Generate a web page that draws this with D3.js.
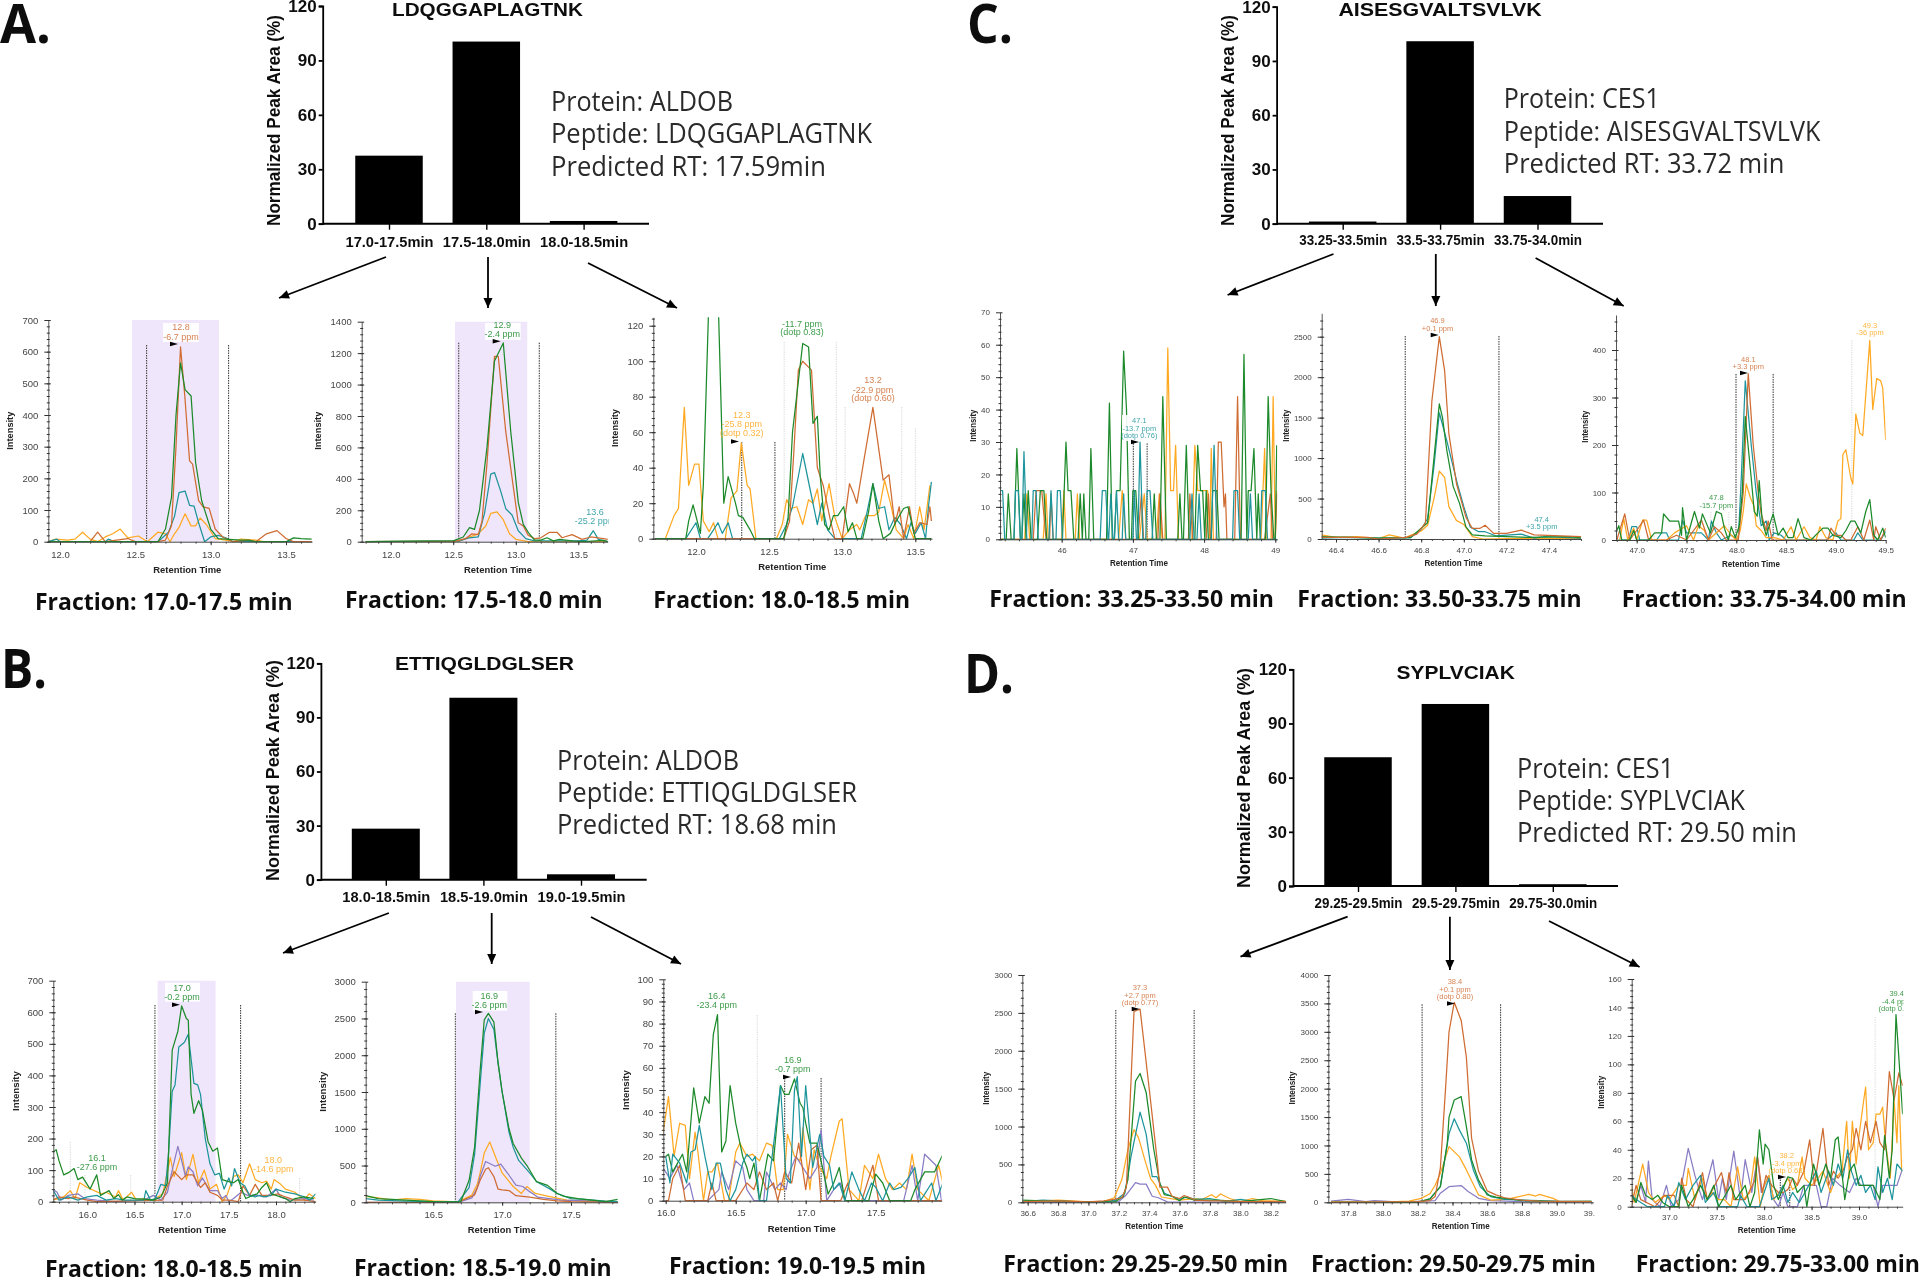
<!DOCTYPE html>
<html><head><meta charset="utf-8">
<script src="https://cdn.jsdelivr.net/npm/d3@7"></script>
<style>html,body{margin:0;padding:0;background:#fff}svg{display:block}</style>
</head><body><svg id="c" width="1920" height="1278"></svg>
<script>
// ---------- bar data ----------
const barCatsA=["17.0-17.5min","17.5-18.0min","18.0-18.5min"], barValsA=[37.5,100.4,1.5];
const barCatsB=["18.0-18.5min","18.5-19.0min","19.0-19.5min"], barValsB=[28.3,100.9,3];
const barCatsC=["33.25-33.5min","33.5-33.75min","33.75-34.0min"], barValsC=[1.2,100.9,15.3];
const barCatsD=["29.25-29.5min","29.5-29.75min","29.75-30.0min"], barValsD=[71.3,100.8,1];
const barTicks=[0,30,60,90,120];
// ---------- chromatogram data: [retention time, intensity] ----------
const a1Yellow=[[11.92,0],[11.97,8],[12.05,5],[12.1,8],[12.15,30],[12.2,8],[12.25,0],[12.3,15],[12.35,25],[12.4,40],[12.45,12],[12.52,18],[12.58,0],[12.65,30],[12.7,25],[12.73,0],[12.76,25],[12.79,45],[12.83,88],[12.87,50],[12.9,50],[12.93,75],[12.97,55],[13.03,10],[13.1,5],[13.15,0],[13.2,8],[13.3,5],[13.35,0],[13.67,0]];
const a1Teal=[[11.92,0],[11.98,8],[12,0],[12.3,0],[12.32,8],[12.36,0],[12.65,0],[12.72,30],[12.76,80],[12.79,155],[12.83,160],[12.86,115],[12.89,112],[12.92,60],[12.96,0],[13,15],[13.05,20],[13.1,12],[13.15,0],[13.67,0]];
const a1Brown=[[11.92,0],[12.2,0],[12.25,30],[12.3,0],[12.45,10],[12.5,0],[12.65,0],[12.7,5],[12.74,50],[12.77,300],[12.8,615],[12.83,450],[12.86,255],[12.88,245],[12.92,130],[12.95,110],[12.99,105],[13.03,40],[13.08,15],[13.15,0],[13.25,5],[13.3,0],[13.37,25],[13.44,35],[13.5,10],[13.55,0],[13.67,0]];
const a1Green=[[11.92,0],[12.6,0],[12.65,0],[12.7,40],[12.74,140],[12.77,400],[12.8,565],[12.83,480],[12.87,460],[12.9,250],[12.94,130],[13,40],[13.05,10],[13.2,5],[13.25,5],[13.3,0],[13.5,0],[13.55,12],[13.6,10],[13.67,8]];
const a2Yellow=[[11.8,0],[12.55,5],[12.7,50],[12.76,100],[12.8,180],[12.85,190],[12.9,140],[12.95,50],[13,15],[13.1,0],[13.74,0]];
const a2Teal=[[11.8,0],[12.55,5],[12.63,25],[12.7,30],[12.75,180],[12.8,430],[12.83,440],[12.88,320],[12.92,210],[12.97,170],[13.02,70],[13.08,20],[13.15,5],[13.5,5],[13.57,10],[13.62,70],[13.66,15],[13.74,0]];
const a2Brown=[[11.8,0],[12.5,0],[12.6,20],[12.65,50],[12.7,45],[12.73,130],[12.77,500],[12.83,1180],[12.86,1180],[12.92,700],[12.98,350],[13.02,120],[13.06,100],[13.1,40],[13.15,20],[13.2,25],[13.27,60],[13.33,60],[13.37,25],[13.45,45],[13.53,15],[13.6,30],[13.7,20],[13.74,15]];
const a2Green=[[11.8,0],[12.5,5],[12.58,30],[12.63,90],[12.67,78],[12.71,200],[12.77,600],[12.83,1150],[12.9,1265],[12.96,700],[13.02,250],[13.06,110],[13.1,60],[13.15,10],[13.2,10],[13.25,25],[13.3,5],[13.35,15],[13.45,5],[13.55,0],[13.7,8],[13.74,0]];
const a3Yellow=[[11.72,0],[11.79,0],[11.85,13],[11.88,17],[11.92,74],[11.95,30],[11.99,42],[12.02,42],[12.05,10],[12.09,4],[12.12,9],[12.15,0],[12.2,0],[12.24,23],[12.28,27],[12.31,54],[12.35,30],[12.37,28],[12.41,0],[12.55,0],[12.59,8],[12.62,22],[12.65,17],[12.69,18],[12.73,8],[12.77,22],[12.8,20],[12.83,28],[12.86,10],[12.91,31],[12.95,12],[13,0],[13.05,5],[13.1,8],[13.12,5],[13.16,13],[13.22,13],[13.25,15],[13.29,33],[13.33,20],[13.37,5],[13.42,0],[13.45,8],[13.49,0],[13.53,18],[13.56,5],[13.6,30]];
const a3Teal=[[11.72,0],[11.93,0],[12,9],[12.03,0],[12.08,0],[12.12,5],[12.15,9],[12.18,3],[12.22,9],[12.25,0],[12.57,0],[12.62,8],[12.66,18],[12.73,48],[12.78,28],[12.83,8],[12.86,20],[12.9,5],[12.95,0],[13.13,0],[13.17,15],[13.21,31],[13.25,17],[13.29,18],[13.32,5],[13.36,12],[13.4,8],[13.44,0],[13.47,9],[13.5,3],[13.54,9],[13.57,0],[13.59,18],[13.61,32]];
const a3Brown=[[11.72,0],[12.6,0],[12.64,10],[12.67,50],[12.7,95],[12.73,100],[12.79,95],[12.83,40],[12.87,30],[12.92,10],[12.95,0],[13,0],[13.05,31],[13.08,25],[13.1,20],[13.15,45],[13.21,74],[13.28,33],[13.32,36],[13.36,8],[13.39,18],[13.42,0],[13.46,18],[13.49,3],[13.53,9],[13.58,8],[13.6,18],[13.61,10]];
const a3Green=[[11.72,0],[11.93,0],[11.95,10],[11.98,19],[12.03,3],[12.05,30],[12.09,140],[12.15,140],[12.19,20],[12.22,35],[12.27,20],[12.29,13],[12.32,12],[12.37,5],[12.4,0],[12.6,0],[12.63,12],[12.66,60],[12.73,110],[12.77,108],[12.8,65],[12.83,69],[12.85,35],[12.88,8],[12.91,5],[12.94,13],[12.97,13],[13.01,18],[13.04,4],[13.07,9],[13.1,0],[13.14,0],[13.18,15],[13.21,31],[13.25,10],[13.28,0],[13.33,3],[13.37,10],[13.42,17],[13.45,18],[13.5,0],[13.61,0]];
const b1Yellow=[[15.63,5],[15.7,10],[15.75,15],[15.82,35],[15.87,10],[15.92,60],[16,45],[16.15,25],[16.2,30],[16.3,15],[16.33,35],[16.38,5],[16.47,30],[16.52,5],[16.6,10],[16.7,5],[16.8,25],[16.88,140],[16.92,80],[17,155],[17.05,70],[17.12,150],[17.18,60],[17.24,100],[17.3,40],[17.37,55],[17.43,0],[17.48,20],[17.55,80],[17.6,85],[17.65,60],[17.72,120],[17.78,70],[17.85,60],[17.9,65],[17.95,40],[17.98,70],[18.05,55],[18.1,40],[18.2,30],[18.3,5],[18.35,25],[18.42,10]];
const b1Purple=[[15.63,40],[15.68,30],[15.72,5],[15.8,20],[15.9,25],[15.97,10],[16.1,5],[16.3,0],[16.6,5],[16.7,20],[16.78,5],[16.85,30],[16.9,100],[16.96,175],[17,130],[17.04,80],[17.07,110],[17.12,95],[17.17,50],[17.22,75],[17.3,35],[17.38,35],[17.43,10],[17.47,20],[17.5,0],[17.55,10],[17.63,30],[17.7,20],[17.8,20],[17.9,15],[18,40],[18.05,15],[18.15,5],[18.3,10],[18.4,5]];
const b1Teal=[[15.63,40],[15.7,5],[15.8,15],[15.9,5],[16,15],[16.1,20],[16.2,5],[16.3,10],[16.4,5],[16.5,5],[16.6,5],[16.62,35],[16.67,5],[16.72,10],[16.78,55],[16.83,50],[16.86,150],[16.9,350],[16.93,370],[16.97,490],[17.03,505],[17.07,530],[17.13,375],[17.17,370],[17.2,340],[17.25,200],[17.3,120],[17.35,85],[17.4,90],[17.45,40],[17.5,75],[17.53,50],[17.56,105],[17.62,60],[17.67,50],[17.72,20],[17.78,15],[17.82,20],[17.87,15],[17.95,20],[18,40],[18.1,30],[18.2,25],[18.3,15],[18.36,5],[18.42,25]];
const b1Brown=[[15.63,5],[15.7,15],[15.8,10],[15.85,15],[16,5],[16.1,0],[16.8,5],[16.85,50],[16.92,95],[17,70],[17.05,85],[17.12,85],[17.2,45],[17.25,60],[17.3,30],[17.38,20],[17.43,5],[17.5,5],[17.6,0],[17.65,50],[17.72,20],[17.78,55],[17.85,20],[17.95,20],[18.02,25],[18.1,15],[18.2,5],[18.3,5],[18.42,0]];
const b1Green=[[15.63,155],[15.67,165],[15.7,130],[15.75,85],[15.8,92],[15.86,105],[15.9,70],[15.95,78],[16.03,40],[16.1,85],[16.14,20],[16.2,30],[16.23,35],[16.28,10],[16.33,22],[16.37,5],[16.42,15],[16.5,10],[16.6,8],[16.7,5],[16.78,15],[16.85,60],[16.9,480],[16.96,540],[17,620],[17.05,580],[17.07,575],[17.1,340],[17.13,280],[17.18,320],[17.22,290],[17.28,190],[17.33,160],[17.38,170],[17.43,70],[17.48,65],[17.55,60],[17.6,70],[17.65,30],[17.68,10],[17.75,20],[17.8,25],[17.85,45],[17.9,60],[17.95,25],[18,20],[18.1,10],[18.15,0],[18.2,10],[18.3,15],[18.4,10]];
const b2Yellow=[[16.01,80],[16.1,60],[16.2,30],[16.3,50],[16.4,40],[16.5,20],[16.68,5],[16.78,100],[16.82,250],[16.84,400],[16.87,670],[16.91,820],[16.96,580],[17,400],[17.08,215],[17.14,120],[17.18,215],[17.24,120],[17.33,85],[17.47,30],[17.84,5]];
const b2Purple=[[16.01,0],[16.68,0],[16.78,60],[16.82,200],[16.84,350],[16.88,555],[16.95,490],[16.99,520],[17.04,395],[17.1,235],[17.15,215],[17.2,145],[17.26,70],[17.43,30],[17.84,5]];
const b2Brown=[[16.01,0],[16.68,0],[16.8,100],[16.84,300],[16.88,450],[16.9,470],[16.94,350],[16.97,180],[17,170],[17.05,160],[17.1,90],[17.2,70],[17.3,40],[17.4,20],[17.5,10],[17.84,0]];
const b2Teal=[[16.01,50],[16.1,30],[16.3,15],[16.6,5],[16.68,5],[16.76,200],[16.8,650],[16.84,1600],[16.87,2300],[16.9,2500],[16.94,2350],[16.97,1900],[17,1500],[17.05,950],[17.08,750],[17.12,570],[17.2,400],[17.25,280],[17.33,200],[17.4,120],[17.5,50],[17.6,40],[17.75,15],[17.84,10]];
const b2Green=[[16.01,90],[16.1,50],[16.3,30],[16.5,10],[16.65,5],[16.7,10],[16.76,300],[16.8,750],[16.84,1790],[16.87,2480],[16.9,2570],[16.94,2450],[16.97,1900],[17,1500],[17.05,1000],[17.08,800],[17.14,600],[17.18,500],[17.25,280],[17.33,230],[17.4,120],[17.45,80],[17.55,50],[17.65,30],[17.75,10],[17.84,40]];
const b3Yellow=[[15.98,30],[16.02,47],[16.06,20],[16.1,35],[16.14,34],[16.17,10],[16.21,31],[16.23,22],[16.27,0],[16.3,13],[16.33,13],[16.37,17],[16.42,0],[16.45,0],[16.5,22],[16.53,26],[16.58,20],[16.62,21],[16.67,18],[16.72,26],[16.76,25],[16.8,5],[16.84,5],[16.87,30],[16.92,20],[16.96,18],[16.98,33],[17.03,5],[17.06,23],[17.1,15],[17.15,10],[17.18,20],[17.24,36],[17.26,37],[17.31,5],[17.38,0],[17.42,16],[17.48,10],[17.52,21],[17.57,10],[17.62,5],[17.67,8],[17.72,5],[17.76,21],[17.8,5],[17.88,0],[17.95,16],[17.99,5]];
const b3Purple=[[15.98,15],[16.03,10],[16.08,16],[16.13,5],[16.17,8],[16.2,0],[16.3,0],[16.38,5],[16.4,13],[16.45,5],[16.5,18],[16.55,15],[16.58,5],[16.63,0],[16.7,0],[16.72,13],[16.78,5],[16.82,8],[16.86,5],[16.88,12],[16.93,20],[16.98,15],[17.03,10],[17.08,15],[17.11,32],[17.15,0],[17.2,5],[17.25,8],[17.28,0],[17.7,0],[17.76,16],[17.8,0],[17.85,21],[17.93,16],[17.97,0]];
const b3Brown=[[16,0],[16.02,0],[16.05,10],[16.1,16],[16.14,0],[16.3,0],[16.33,8],[16.36,0],[16.5,0],[16.58,8],[16.63,5],[16.67,13],[16.72,5],[16.77,8],[16.8,0],[16.85,13],[16.9,8],[16.95,26],[17,5],[17.04,23],[17.08,25],[17.11,0],[17.25,0],[17.3,8],[17.33,0],[17.4,0],[17.48,16],[17.52,0],[17.98,0]];
const b3Teal=[[16,20],[16.03,8],[16.05,21],[16.1,17],[16.15,8],[16.18,22],[16.21,23],[16.24,34],[16.28,20],[16.33,5],[16.36,17],[16.39,17],[16.43,5],[16.46,0],[16.5,5],[16.55,17],[16.58,21],[16.62,18],[16.64,20],[16.67,0],[16.72,0],[16.77,25],[16.82,52],[16.86,10],[16.89,8],[16.92,50],[16.94,56],[16.97,20],[17,52],[17.05,15],[17.1,30],[17.13,20],[17.17,16],[17.2,5],[17.24,8],[17.28,0],[17.33,13],[17.38,5],[17.42,0],[17.47,8],[17.5,6],[17.55,0],[17.6,8],[17.63,5],[17.68,6],[17.73,10],[17.78,15],[17.82,0],[17.9,8],[17.93,0],[17.98,8]];
const b3Green=[[16,20],[16.02,21],[16.05,13],[16.12,21],[16.15,13],[16.2,51],[16.24,35],[16.28,47],[16.31,44],[16.34,75],[16.37,84],[16.4,22],[16.43,27],[16.46,52],[16.5,35],[16.55,20],[16.58,15],[16.6,10],[16.63,17],[16.67,0],[16.73,21],[16.77,18],[16.82,52],[16.85,48],[16.88,48],[16.92,55],[16.96,44],[16.98,42],[17,35],[17.03,26],[17.08,26],[17.12,15],[17.16,3],[17.2,8],[17.24,15],[17.28,0],[17.45,0],[17.5,12],[17.55,8],[17.6,0],[17.75,0],[17.78,5],[17.85,13],[17.92,13],[17.98,21]];
const c1Yellow=[[45.13,0],[45.48,0],[45.51,14],[45.55,0],[45.74,0],[45.78,14],[45.81,0],[46,0],[46.03,15],[46.06,0],[46.19,0],[46.22,14],[46.25,0],[46.8,0],[46.85,15],[46.9,0],[47.09,0],[47.16,14],[47.2,0],[47.33,0],[47.37,14],[47.41,0],[47.45,0],[47.49,59],[47.53,15],[47.57,15],[47.6,29],[47.64,0],[47.83,0],[47.87,29],[47.91,15],[48.05,15],[48.08,0],[48.1,28],[48.13,0],[48.8,0],[48.85,28],[48.88,0],[48.94,0],[48.97,44],[49,0],[49.02,15]];
const c1Brown=[[45.13,0],[45.6,0],[45.64,15],[45.72,15],[45.78,0],[45.83,0],[45.85,14],[45.88,0],[46.2,0],[47.07,0],[47.12,14],[47.15,0],[47.35,0],[47.38,14],[47.42,0],[47.78,0],[47.8,14],[47.84,0],[48.03,0],[48.06,14],[48.09,0],[48.17,0],[48.2,30],[48.24,30],[48.28,10],[48.3,14],[48.32,0],[48.43,0],[48.47,44],[48.51,0],[48.85,0],[48.93,14],[48.96,0],[49,0],[49.02,14]];
const c1Green=[[45.13,0],[45.22,0],[45.25,14],[45.29,0],[45.33,0],[45.37,28],[45.42,0],[45.44,0],[45.47,14],[45.5,0],[45.53,15],[45.57,0],[45.66,0],[45.7,15],[45.75,15],[45.79,0],[46.01,0],[46.06,30],[46.09,15],[46.13,15],[46.17,0],[46.23,0],[46.26,14],[46.29,0],[46.31,14],[46.34,0],[46.38,0],[46.41,28],[46.45,0],[46.63,0],[46.67,42],[46.71,0],[46.74,0],[46.77,15],[46.82,15],[46.87,58],[46.91,40],[46.95,0],[46.98,0],[47,15],[47.04,15],[47.08,0],[47.27,0],[47.3,14],[47.33,0],[47.38,0],[47.42,44],[47.47,0],[47.63,0],[47.66,14],[47.69,0],[47.71,0],[47.75,29],[47.79,0],[47.87,0],[47.91,29],[47.95,15],[47.98,15],[48.01,0],[48.03,15],[48.06,0],[48.1,0],[48.12,15],[48.18,15],[48.21,0],[48.52,0],[48.56,57],[48.6,0],[48.62,15],[48.66,15],[48.7,28],[48.74,0],[48.76,14],[48.79,0],[48.86,0],[48.9,44],[48.94,15],[48.98,0],[49,0],[49.02,29]];
const c1Teal=[[45.13,15],[45.17,15],[45.2,0],[45.33,0],[45.35,15],[45.39,15],[45.42,0],[45.44,0],[45.47,27],[45.51,0],[45.58,0],[45.6,15],[45.64,15],[45.67,0],[45.82,0],[45.85,15],[45.88,0],[45.92,0],[45.94,15],[45.98,15],[46.01,0],[46.54,0],[46.57,15],[46.62,15],[46.65,0],[46.66,0],[46.69,14],[46.72,0],[46.74,0],[46.77,15],[46.8,0],[46.85,0],[46.87,14],[46.9,0],[47,0],[47.02,15],[47.05,0],[47.07,0],[47.1,30],[47.14,0],[47.18,0],[47.2,15],[47.24,15],[47.28,0],[47.8,0],[47.83,14],[47.86,0],[47.9,0],[47.93,14],[47.96,0],[48.1,0],[48.14,29],[48.18,0],[48.4,0],[48.42,15],[48.47,15],[48.5,0],[48.62,0],[48.65,14],[48.68,0],[48.79,0],[48.81,15],[48.86,15],[48.89,0],[49.02,0]];
const c2Yellow=[[46.33,50],[46.4,20],[46.5,30],[46.6,5],[46.65,50],[46.72,10],[46.8,100],[46.83,170],[46.86,500],[46.885,840],[46.91,760],[46.93,400],[46.965,230],[47,180],[47.04,30],[47.09,0],[47.2,5],[47.55,5]];
const c2Teal=[[46.33,10],[46.45,20],[46.6,10],[46.75,15],[46.8,120],[46.83,250],[46.86,900],[46.885,1560],[46.92,1215],[46.97,680],[47,400],[47.03,150],[47.07,90],[47.1,90],[47.15,40],[47.27,60],[47.33,10],[47.38,30],[47.55,10]];
const c2Green=[[46.33,30],[46.6,10],[46.75,20],[46.83,200],[46.86,1000],[46.885,1670],[46.9,1500],[46.92,1100],[46.95,650],[46.98,440],[47.01,150],[47.04,50],[47.1,40],[47.3,20],[47.5,30],[47.55,15]];
const c2Brown=[[46.33,20],[46.55,20],[46.6,0],[46.73,20],[46.78,60],[46.82,200],[46.85,1700],[46.885,2500],[46.91,2080],[46.93,1300],[46.966,680],[47.01,270],[47.04,130],[47.075,130],[47.1,170],[47.14,70],[47.2,70],[47.27,110],[47.33,50],[47.55,30]];
const c3Teal=[[46.8,0],[46.92,0],[46.95,28],[47,28],[47.03,0],[47.2,0],[47.25,15],[47.3,15],[47.33,0],[47.42,0],[47.46,42],[47.5,15],[47.65,15],[47.72,0],[47.75,40],[47.8,15],[47.85,0],[47.95,10],[48.02,0],[48.05,130],[48.09,335],[48.15,200],[48.2,100],[48.25,30],[48.3,40],[48.33,0],[48.38,15],[48.45,10],[48.5,0],[48.9,0],[49,15],[49.05,0],[49.18,0],[49.22,15],[49.27,0],[49.45,0],[49.5,18]];
const c3Yellow=[[46.83,0],[46.87,45],[46.91,0],[46.97,25],[47,0],[47.06,42],[47.1,42],[47.15,0],[47.3,0],[47.38,15],[47.5,30],[47.57,0],[47.62,30],[47.68,20],[47.72,0],[47.88,30],[47.95,10],[48,0],[48.04,20],[48.07,60],[48.1,118],[48.14,90],[48.18,70],[48.2,30],[48.25,20],[48.3,5],[48.38,5],[48.47,0],[48.55,28],[48.6,0],[48.68,28],[48.74,5],[48.8,0],[48.84,28],[48.9,5],[48.97,0],[49.02,40],[49.05,45],[49.07,180],[49.1,190],[49.15,130],[49.17,118],[49.2,265],[49.24,225],[49.27,220],[49.34,420],[49.37,275],[49.41,340],[49.45,335],[49.47,320],[49.5,210]];
const c3Brown=[[46.8,0],[46.88,55],[46.93,0],[47,20],[47.07,42],[47.12,0],[47.3,0],[47.4,10],[47.5,0],[47.65,42],[47.72,0],[47.78,28],[47.85,15],[47.9,0],[48.02,0],[48.07,100],[48.12,350],[48.17,200],[48.22,100],[48.25,55],[48.3,20],[48.32,40],[48.36,0],[48.92,0],[48.95,25],[49,10],[49.05,10],[49.1,0],[49.15,0],[49.22,28],[49.28,0],[49.34,42],[49.38,0],[49.4,28],[49.45,0],[49.5,25]];
const c3Green=[[46.8,20],[46.82,30],[46.85,0],[46.93,0],[46.97,20],[47,0],[47.12,0],[47.18,15],[47.25,15],[47.27,55],[47.33,40],[47.42,40],[47.45,10],[47.46,68],[47.5,0],[47.58,60],[47.63,25],[47.66,55],[47.74,15],[47.8,60],[47.85,55],[47.88,25],[47.92,0],[47.95,28],[47.99,5],[48.03,30],[48.06,100],[48.09,260],[48.15,130],[48.18,60],[48.21,50],[48.23,125],[48.26,40],[48.3,10],[48.37,55],[48.42,10],[48.47,25],[48.52,5],[48.57,5],[48.62,45],[48.68,5],[48.75,0],[48.82,15],[48.87,25],[48.92,25],[48.97,10],[49.05,5],[49.1,20],[49.15,40],[49.19,40],[49.25,15],[49.3,60],[49.34,85],[49.38,10],[49.42,0],[49.47,25],[49.5,5]];
const d1Purple=[[36.56,0],[37.1,0],[37.2,10],[37.25,100],[37.31,260],[37.34,240],[37.38,240],[37.42,80],[37.46,60],[37.52,5],[38.3,0]];
const d1Yellow=[[36.56,5],[36.8,30],[37,5],[37.1,10],[37.17,60],[37.22,300],[37.26,700],[37.3,960],[37.33,850],[37.38,500],[37.41,310],[37.44,230],[37.48,70],[37.6,30],[37.7,50],[37.75,40],[37.81,100],[37.84,60],[37.87,110],[37.93,50],[38,10],[38.08,50],[38.15,20],[38.3,15]];
const d1Teal=[[36.56,10],[36.7,30],[36.9,10],[37.1,5],[37.18,30],[37.24,120],[37.28,600],[37.34,1190],[37.38,900],[37.42,340],[37.45,340],[37.5,120],[37.6,40],[37.65,70],[37.7,40],[37.8,50],[37.9,10],[38,40],[38.1,10],[38.3,5]];
const d1Green=[[36.56,30],[36.7,20],[37,5],[37.18,10],[37.23,80],[37.26,300],[37.31,1600],[37.34,1700],[37.38,1450],[37.43,700],[37.47,250],[37.5,100],[37.55,80],[37.6,20],[37.63,70],[37.7,30],[37.85,30],[38,10],[38.2,50],[38.3,10]];
const d1Brown=[[36.56,10],[36.8,20],[37,5],[37.1,20],[37.17,40],[37.22,60],[37.25,200],[37.3,2520],[37.34,2550],[37.4,1500],[37.45,600],[37.47,200],[37.52,200],[37.55,80],[37.6,50],[37.63,90],[37.67,60],[37.7,30],[37.8,20],[37.9,20],[38,10],[38.3,10]];
const d2Purple=[[37.7,20],[37.8,50],[37.9,10],[37.95,30],[38.1,5],[38.3,30],[38.33,160],[38.38,275],[38.45,295],[38.49,190],[38.55,70],[38.62,30],[38.8,10],[39.2,5]];
const d2Yellow=[[37.7,10],[38,5],[38.15,20],[38.22,70],[38.27,150],[38.3,300],[38.33,510],[38.38,980],[38.44,800],[38.48,570],[38.55,130],[38.62,40],[38.71,50],[38.84,140],[38.88,110],[38.9,140],[38.98,70],[39.02,10],[39.2,15]];
const d2Teal=[[37.7,0],[38.2,5],[38.27,60],[38.33,275],[38.38,1210],[38.41,1470],[38.44,1270],[38.48,1040],[38.52,570],[38.56,275],[38.62,100],[38.7,50],[39,20],[39.2,15]];
const d2Green=[[37.7,0],[38.2,0],[38.27,60],[38.33,275],[38.37,1040],[38.38,1500],[38.41,1800],[38.45,1860],[38.48,1330],[38.51,745],[38.55,390],[38.6,130],[38.65,90],[38.8,30],[39,10],[39.2,15]];
const d2Brown=[[37.7,0],[38.2,10],[38.27,30],[38.3,100],[38.33,600],[38.36,2000],[38.38,3000],[38.41,3520],[38.45,3200],[38.48,2550],[38.51,1125],[38.55,550],[38.6,200],[38.65,130],[38.7,80],[38.8,40],[38.9,20],[39,15],[39.2,10]];
const d3Purple=[[36.6,10],[36.65,3],[36.7,15],[36.75,3],[36.78,32],[36.82,5],[36.9,0],[36.97,15],[37.02,0],[37.1,5],[37.2,41],[37.27,22],[37.3,15],[37.35,5],[37.46,33],[37.52,5],[37.56,20],[37.6,5],[37.68,39],[37.75,5],[37.8,33],[37.87,10],[37.93,35],[37.97,10],[38.05,22],[38.1,5],[38.15,0],[38.2,10],[38.25,0],[38.35,0],[38.42,15],[38.55,15],[38.6,0],[38.66,0],[38.72,20],[38.8,15],[38.9,10],[38.97,20],[39.02,15],[39.15,15],[39.2,0],[39.25,15],[39.4,15],[39.45,25]];
const d3Yellow=[[36.6,15],[36.63,3],[36.72,30],[36.78,10],[36.85,3],[36.95,8],[37,5],[37.1,15],[37.18,15],[37.2,27],[37.27,5],[37.35,20],[37.4,5],[37.45,10],[37.52,5],[37.58,5],[37.65,0],[37.72,28],[37.78,5],[37.85,10],[37.9,35],[37.96,0],[38,15],[38.05,22],[38.1,5],[38.18,12],[38.25,20],[38.3,12],[38.35,15],[38.4,35],[38.43,20],[38.5,15],[38.57,20],[38.62,25],[38.7,10],[38.75,20],[38.82,25],[38.87,60],[38.9,20],[38.93,60],[38.97,30],[39,50],[39.05,75],[39.07,84],[39.1,40],[39.15,45],[39.18,65],[39.22,65],[39.25,70],[39.28,45],[39.33,20],[39.37,75],[39.4,45],[39.42,85],[39.45,25]];
const d3Brown=[[36.6,0],[36.65,15],[36.7,5],[36.85,0],[36.95,8],[37.05,8],[37.1,0],[37.13,20],[37.18,5],[37.25,0],[37.35,24],[37.4,5],[37.55,24],[37.6,10],[37.63,24],[37.68,5],[37.8,5],[37.9,18],[37.93,35],[37.98,10],[38.02,22],[38.08,15],[38.15,10],[38.2,10],[38.25,12],[38.3,20],[38.35,15],[38.42,25],[38.48,47],[38.53,15],[38.62,55],[38.68,15],[38.73,25],[38.78,20],[38.83,25],[38.88,35],[38.93,40],[38.97,55],[39.02,40],[39.07,60],[39.12,45],[39.18,60],[39.22,45],[39.27,40],[39.32,95],[39.37,75],[39.42,94],[39.46,85]];
const d3Teal=[[36.6,8],[36.65,5],[36.7,3],[36.77,0],[36.95,0],[36.98,8],[37.05,0],[37.1,17],[37.17,5],[37.25,15],[37.33,22],[37.38,3],[37.47,10],[37.52,0],[37.72,0],[37.75,8],[37.82,0],[37.95,0],[38.05,20],[38.08,5],[38.15,8],[38.2,15],[38.25,3],[38.3,10],[38.37,3],[38.43,10],[38.47,15],[38.55,25],[38.6,10],[38.68,25],[38.73,15],[38.78,30],[38.83,20],[38.88,40],[38.92,25],[38.97,15],[39.02,22],[39.07,10],[39.12,15],[39.17,5],[39.2,28],[39.25,10],[39.3,20],[39.35,5],[39.4,30],[39.46,25]];
const d3Green=[[36.6,8],[36.65,3],[36.7,17],[36.75,8],[36.82,5],[36.88,8],[36.93,3],[37,0],[37.1,0],[37.13,15],[37.2,0],[37.25,5],[37.33,15],[37.4,5],[37.47,15],[37.52,0],[37.65,15],[37.7,5],[37.8,15],[37.85,0],[37.9,10],[37.95,54],[37.99,30],[38.01,44],[38.05,40],[38.1,15],[38.15,5],[38.25,21],[38.3,20],[38.35,10],[38.42,15],[38.45,0],[38.52,30],[38.58,15],[38.65,30],[38.7,20],[38.75,47],[38.78,49],[38.85,5],[38.9,25],[38.95,30],[39,15],[39.1,15],[39.15,15],[39.22,5],[39.27,50],[39.32,20],[39.35,40],[39.39,135],[39.44,85],[39.46,65]];
// ---------- tick labels ----------
const a1Ticks=[0,100,200,300,400,500,600,700], a2Ticks=[0,200,400,600,800,1000,1200,1400], a3Ticks=[0,20,40,60,80,100,120];
const b1Ticks=[0,100,200,300,400,500,600,700], b2Ticks=[0,500,1000,1500,2000,2500,3000], b3Ticks=[0,10,20,30,40,50,60,70,80,90,100];
const c1Ticks=[0,10,20,30,40,50,60,70], c2Ticks=[0,500,1000,1500,2000,2500], c3Ticks=[0,100,200,300,400];
const d1Ticks=[0,500,1000,1500,2000,2500,3000], d2Ticks=[0,500,1000,1500,2000,2500,3000,3500,4000], d3Ticks=[0,20,40,60,80,100,120,140,160];

// ---------- layout & styling ----------
const COL={green:"#1c8a2a",brown:"#cf6c33",teal:"#1f959c",yellow:"#ffa922",purple:"#8a7cc4"};
const svg=d3.select("#c");
const fit=(s,len)=>s.attr("textLength",len).attr("lengthAdjust","spacingAndGlyphs");

const barPanels=[
 {letter:"A.",lx:0,lb:43,lw:51,cats:barCatsA,vals:barValsA,ax:322.7,ye:[223.7,6],xe:649,tk:[389,583.6],bw:67.5,lab:241.7,title:"LDQGGAPLAGTNK",tx:[392,583],ty:9,
  ylx:274,yl:[15,226],txt:["Protein: ALDOB","Peptide: LDQGGAPLAGTNK","Predicted RT: 17.59min"],tl:[182,321,275],px:551,pb:[111,143,176],
  arrows:[[386,257,279,298],[488,257,488,308],[588,263,677,308]]},
 {letter:"C.",lx:967,lb:43,lw:46,cats:barCatsC,vals:barValsC,ax:1276.6,ye:[223.7,6.7],xe:1603,tk:[1342.7,1537.5],bw:67.5,lab:240,title:"AISESGVALTSVLVK",tx:[1338.4,1541.7],ty:9,
  ylx:1228,yl:[15,226],txt:["Protein: CES1","Peptide: AISESGVALTSVLVK","Predicted RT: 33.72 min"],tl:[156,316.6,280.5],px:1503.8,pb:[108,141,173],
  arrows:[[1333.5,254,1227.6,295],[1435.8,254,1435.8,306],[1535.6,258,1623.7,306]]},
 {letter:"B.",lx:1,lb:688,lw:46,cats:barCatsB,vals:barValsB,ax:320.9,ye:[879.7,663.3],xe:646.7,tk:[385.8,581],bw:68,lab:897,title:"ETTIQGLDGLSER",tx:[395,574],ty:663,
  ylx:272.5,yl:[660,881],txt:["Protein: ALDOB","Peptide: ETTIQGLDGLSER","Predicted RT: 18.68 min"],tl:[182,300,280],px:557,pb:[770,802,834],
  arrows:[[388.9,913,283,953],[491.7,913,491.7,964],[591,917,681,964]]},
 {letter:"D.",lx:964,lb:693,lw:50,cats:barCatsD,vals:barValsD,ax:1293,ye:[886,669.3],xe:1618,tk:[1358,1552.8],bw:67.5,lab:902.7,title:"SYPLVCIAK",tx:[1396.6,1514.8],ty:671.7,
  ylx:1243.5,yl:[668,888],txt:["Protein: CES1","Peptide: SYPLVCIAK","Predicted RT: 29.50 min"],tl:[157,228,280],px:1517,pb:[777.7,810,842],
  arrows:[[1347.6,916.7,1240.5,956.7],[1449.9,916.7,1449.9,970],[1549,921,1639.6,967]]}
];
const defs=svg.append("defs");
defs.append("filter").attr("id","soft").attr("filterUnits","userSpaceOnUse").attr("x",0).attr("y",0).attr("width",1920).attr("height",1278)
 .append("feGaussianBlur").attr("stdDeviation",0.38);

barPanels.forEach(p=>{
 const g=svg.append("g").attr("filter","url(#soft)");
 g.append("text").text(p.letter).attr("x",p.lx).attr("y",p.lb).attr("font-family","Open Sans").attr("font-weight",700).attr("font-size",54).attr("fill","#111").call(fit,p.lw);
 const y=d3.scaleLinear().domain([0,120]).range(p.ye);
 const x=d3.scalePoint().domain(p.cats).range(p.tk);
 g.selectAll("rect.bar").data(p.vals).join("rect").attr("class","bar").attr("x",(d,i)=>x(p.cats[i])-p.bw/2).attr("width",p.bw).attr("y",d=>y(d)).attr("height",d=>y(0)-y(d)).attr("fill","#000");
 const ya=g.append("g").attr("transform",`translate(${p.ax},0)`).call(d3.axisLeft(y).tickValues(barTicks).tickSize(4).tickPadding(2));
 ya.selectAll("path,line").attr("stroke","#000").attr("stroke-width",1.8);
 ya.selectAll("text").attr("font-family","'Liberation Sans Narrow','Liberation Sans'").attr("font-weight",700).attr("font-size",17).attr("fill","#111");
 const xa=g.append("g").attr("transform",`translate(0,${p.ye[0]})`).call(d3.axisBottom(x).tickSize(6).tickSizeOuter(0).tickPadding(6));
 xa.select("path").attr("d",`M${p.ax},0H${p.xe}`).attr("stroke","#000").attr("stroke-width",2);
 xa.selectAll("line").attr("stroke","#000").attr("stroke-width",1.4);
 xa.selectAll("text").attr("y",p.lab-p.ye[0]).attr("dy","0.36em").attr("font-family","'Liberation Sans Narrow','Liberation Sans'").attr("font-weight",700).attr("font-size",14).attr("fill","#111").call(fit,88).attr("x",-44).attr("text-anchor","start");
 g.append("text").text(p.title).attr("x",p.tx[0]).attr("y",p.ty).attr("dy","0.36em").attr("font-family","Liberation Sans").attr("font-weight",700).attr("font-size",19).attr("fill","#111").call(fit,p.tx[1]-p.tx[0]);
 g.append("text").text("Normalized Peak Area (%)").attr("transform",`translate(${p.ylx},${p.yl[1]}) rotate(-90)`).attr("dy","0.36em").attr("font-family","Liberation Sans").attr("font-weight",700).attr("font-size",17.5).attr("fill","#111").call(fit,p.yl[1]-p.yl[0]);
 p.txt.forEach((t,i)=>g.append("text").text(t).attr("x",p.px).attr("y",p.pb[i]).attr("font-family","Open Sans").attr("font-weight",400).attr("font-size",27).attr("fill","#2a2a2a").call(fit,p.tl[i]));
 p.arrows.forEach(a=>{
  g.append("line").attr("x1",a[0]).attr("y1",a[1]).attr("x2",a[2]).attr("y2",a[3]).attr("stroke","#000").attr("stroke-width",1.8);
  const ang=Math.atan2(a[3]-a[1],a[2]-a[0])*180/Math.PI;
  g.append("path").attr("d","M0,0L-10,-4.5L-10,4.5Z").attr("fill","#000").attr("transform",`translate(${a[2]},${a[3]}) rotate(${ang})`);
 });
});

const chromPanels=[
 {s:[["yellow",a1Yellow],["teal",a1Teal],["brown",a1Brown],["green",a1Green]],xc:[12,13.5,60,286],xt:[12,12.5,13,13.5],xm:0.1,fmt:".1f",yc:[700,320],y0:541.7,top:320,left:48.3,right:312,yt:a1Ticks,lab:[10,430.7,38],xl:[187.3,570,68],tickY:554.3,shade:[12.478,13.055,320],bounds:[12.575,13.119,345],box:[163,323,36,19],mark:[170,344],
  ann:[[181,["12.8","-6.7 ppm"],"brown",[327,336.3]]],light:[],frac:["Fraction: 17.0-17.5 min",35,292.7,610]},
 {s:[["yellow",a2Yellow],["teal",a2Teal],["brown",a2Brown],["green",a2Green]],xc:[12,13.5,390.7,578.3],xt:[12,12.5,13,13.5],xm:0.1,fmt:".1f",yc:[1400,321.7],y0:541.7,top:321.7,left:361.7,right:607.7,yt:a2Ticks,lab:[318,430.7,38],xl:[498,570,68],tickY:554.3,shade:[12.514,13.092,321.7],bounds:[12.544,13.188,342.7],box:[485,323,35.7,17],mark:[492.7,341.3],
  ann:[[502.3,["12.9","-2.4 ppm"],"green",[324.3,334]],[595,["13.6","-25.2 ppm"],"teal",[511.7,521]]],light:[],frac:["Fraction: 17.5-18.0 min",345,602.7,608]},
 {s:[["yellow",a3Yellow],["teal",a3Teal],["brown",a3Brown],["green",a3Green]],xc:[12,13.5,696,915.3],xt:[12,12.5,13,13.5],xm:0.1,fmt:".1f",yc:[120,325.7],y0:538.7,top:317.3,left:653.3,right:932,yt:a3Ticks,lab:[615,428,38],xl:[792.3,567,68],tickY:551.7,bounds:[12.313,12.54,442],mark:[731,441.5],
  ann:[[741.7,["12.3","-25.8 ppm","(dotp 0.32)"],"yellow",[415,424,433]],[802,["-11.7 ppm","(dotp 0.83)"],"green",[324,332]],[873,["13.2","-22.9 ppm","(dotp 0.60)"],"brown",[380,389.7,398]]],
  light:[[12.603,342],[12.96,342],[13.02,407],[13.407,407],[13.5,428]],frac:["Fraction: 18.0-18.5 min",653.3,910,608]},
 {s:[["yellow",c1Yellow],["brown",c1Brown],["green",c1Green],["teal",c1Teal]],xc:[46,49,1061.7,1275.3],xt:[46,47,48,49],xm:0.2,fmt:"d",yc:[70,312.3],y0:539.3,top:312.3,left:1000,right:1277.3,yt:c1Ticks,lab:[972.7,425.7,32],xl:[1139,563.3,58],tickY:550,bounds:[47.006,47.2,443.3],box:[1122,415,36,26],mark:[1131,442],
  ann:[[1139.3,["47.1","-13.7 ppm","(dotp 0.76)"],"teal",[420.7,428.3,435.6]]],light:[],frac:["Fraction: 33.25-33.50 min",989.3,1274,607],small:true},
 {s:[["yellow",c2Yellow],["teal",c2Teal],["green",c2Green],["brown",c2Brown]],xc:[46.4,47.4,1336,1549],xt:[46.4,46.6,46.8,47,47.2,47.4],xm:0.05,fmt:".1f",yc:[2500,336.7],y0:539,top:313.3,left:1321.7,right:1581,yt:c2Ticks,lab:[1285.7,425.7,32],xl:[1453.5,563,58],tickY:550,bounds:[46.725,47.165,336],mark:[1430.7,335],
  ann:[[1437.5,["46.9","+0.1 ppm"],"brown",[320,328]],[1541.7,["47.4","+3.5 ppm"],"teal",[519,526.7]]],light:[],frac:["Fraction: 33.50-33.75 min",1297.3,1581.7,607],small:true},
 {s:[["teal",c3Teal],["yellow",c3Yellow],["brown",c3Brown],["green",c3Green]],xc:[47,49.5,1636.7,1885.7],xt:[47,47.5,48,48.5,49,49.5],xm:0.1,fmt:".1f",yc:[400,350],y0:540,top:315,left:1616,right:1885.7,yt:c3Ticks,lab:[1585,426.7,32],xl:[1751,564,58],tickY:550,bounds:[47.997,48.37,374],mark:[1740,373],
  ann:[[1748.3,["48.1","+3.3 ppm"],"brown",[359,366.7]],[1870,["49.3","-36 ppm"],"yellow",[325,332.7]],[1716.3,["47.8","-15.7 ppm"],"green",[497,505]]],light:[[49.16,340],[47.745,512],[47.925,512]],frac:["Fraction: 33.75-34.00 min",1621.7,1906.7,606.7],small:true},
 {s:[["yellow",b1Yellow],["purple",b1Purple],["brown",b1Brown],["teal",b1Teal],["green",b1Green]],xc:[16,18,87.3,276],xt:[16,16.5,17,17.5,18],xm:0.1,fmt:".1f",yc:[700,980.7],y0:1201.7,top:980.7,left:53.3,right:315.7,yt:b1Ticks,lab:[16,1091,40],xl:[192.3,1230,68],tickY:1215,shade:[16.745,17.36,980.7],bounds:[16.717,17.625,1005],box:[165,982.7,35,19],mark:[172,1004.7],
  ann:[[182,["17.0","-0.2 ppm"],"green",[987.3,996.7]],[97,["16.1","-27.6 ppm"],"green",[1157.3,1166.7]],[273.3,["18.0","-14.6 ppm"],"yellow",[1160,1169]]],light:[[15.82,1142],[15.975,1175],[16.46,1175],[18.25,1178]],frac:["Fraction: 18.0-18.5 min",45,302.7,1276.7]},
 {s:[["yellow",b2Yellow],["purple",b2Purple],["brown",b2Brown],["teal",b2Teal],["green",b2Green]],xc:[16.5,17.5,433.3,571],xt:[16.5,17,17.5],xm:0.1,fmt:".1f",yc:[3000,981.7],y0:1202.3,top:981.7,left:365.7,right:617.7,yt:b2Ticks,lab:[322.3,1091.7,40],xl:[501.7,1230,68],tickY:1215,shade:[16.665,17.2,981.7],bounds:[16.66,17.39,1013.3],box:[472.7,991,34.6,19.7],mark:[475,1012],
  ann:[[489.3,["16.9","-2.6 ppm"],"green",[995.7,1005]]],light:[],frac:["Fraction: 18.5-19.0 min",354,611.7,1275.7]},
 {s:[["yellow",b3Yellow],["purple",b3Purple],["brown",b3Brown],["green",b3Green],["teal",b3Teal]],xc:[16,17.5,665.7,875.7],xt:[16,16.5,17,17.5],xm:0.1,fmt:".1f",yc:[100,979.3],y0:1200.7,top:979.3,left:663.3,right:941.7,yt:b3Ticks,lab:[625.7,1090,40],xl:[801.7,1229,68],tickY:1213,bounds:[16.85,17.11,1078],mark:[783,1077],
  ann:[[716.7,["16.4","-23.4 ppm"],"green",[995.7,1005]],[792.7,["16.9","-0.7 ppm"],"green",[1060,1069]]],light:[[16.654,1015]],frac:["Fraction: 19.0-19.5 min",669,926,1274]},
 {s:[["purple",d1Purple],["yellow",d1Yellow],["teal",d1Teal],["green",d1Green],["brown",d1Brown]],xc:[36.6,38.2,1027.7,1270.7],xt:[36.6,36.8,37,37.2,37.4,37.6,37.8,38,38.2],xm:0.05,fmt:".1f",yc:[3000,975],y0:1202.3,top:975,left:1022.3,right:1285.7,yt:d1Ticks,lab:[986,1088.3,33],xl:[1154.3,1226,58],tickY:1213.3,bounds:[37.18,37.696,1010],mark:[1131.7,1009],
  ann:[[1140,["37.3","+2.7 ppm","(dotp 0.77)"],"brown",[987,995,1002.5]]],light:[],frac:["Fraction: 29.25-29.50 min",1003.3,1288.3,1271.7],small:true},
 {s:[["purple",d2Purple],["yellow",d2Yellow],["teal",d2Teal],["green",d2Green],["brown",d2Brown]],xc:[37.8,39,1348.3,1556.7],xt:[37.8,38,38.2,38.4,38.6,38.8,39,39.2],xm:0.05,fmt:".1f",yc:[4000,975],y0:1202.3,top:975,left:1328.3,right:1593.3,yt:d2Ticks,lab:[1292.3,1088,33],xl:[1460.7,1226,58],tickY:1213.3,bounds:[38.225,38.677,1004.3],mark:[1447,1003.5],clipTicks:true,
  ann:[[1455,["38.4","+0.1 ppm","(dotp 0.80)"],"brown",[981.3,989,996.5]]],light:[],frac:["Fraction: 29.50-29.75 min",1311,1596,1272],small:true},
 {s:[["purple",d3Purple],["yellow",d3Yellow],["brown",d3Brown],["teal",d3Teal],["green",d3Green]],xc:[37,39,1669.3,1859],xt:[37,37.5,38,38.5,39],xm:0.1,fmt:".1f",yc:[160,979],y0:1206.7,top:979,left:1631.7,right:1902.7,yt:d3Ticks,lab:[1600.7,1092.3,33],xl:[1766.7,1230,58],tickY:1217.3,bounds:[38.17,38.27,1177],mark:[1778,1177],
  ann:[[1786.7,["38.2","-3.4 ppm","(dotp 0.68)"],"yellow",[1155.7,1163.3,1170.7]],[1896.7,["39.4","-4.4 ppm","(dotp 0.70)"],"green",[993,1001,1008]]],light:[[39.17,1017]],frac:["Fraction: 29.75-33.00 min",1635.7,1920,1272],small:true}
];

chromPanels.forEach((p,pi)=>{
 const x=d3.scaleLinear().domain([p.xc[0],p.xc[1]]).range([p.xc[2],p.xc[3]]);
 const y0=p.y0, yv=d3.scaleLinear().domain([0,p.yc[0]]).range([y0,p.yc[1]]);
 const y=yv.copy().domain([0,yv.invert(p.top)]).range([y0,p.top]);
 const fs=p.small?8:9.5;
 const g=svg.append("g").attr("filter","url(#soft)");
 const cid="clip"+pi;
 defs.append("clipPath").attr("id",cid).append("rect").attr("x",p.left).attr("y",p.top).attr("width",p.right-p.left).attr("height",y0-p.top+1);
 const tid="tclip"+pi;
 defs.append("clipPath").attr("id",tid).append("rect").attr("x",p.left-80).attr("y",p.top-40).attr("width",p.right-p.left+81).attr("height",y0-p.top+90);
 if(p.shade) g.append("rect").attr("x",x(p.shade[0])).attr("width",x(p.shade[1])-x(p.shade[0])).attr("y",p.shade[2]).attr("height",y0-p.shade[2]).attr("fill","#f0e6fb");
 (p.light||[]).forEach(l=>g.append("line").attr("x1",x(l[0])).attr("x2",x(l[0])).attr("y1",l[1]).attr("y2",y0).attr("stroke","#ccc").attr("stroke-width",0.8).attr("stroke-dasharray","1.2 1.2"));
 p.bounds.slice(0,2).forEach(b=>g.append("line").attr("x1",x(b)).attr("x2",x(b)).attr("y1",p.bounds[2]).attr("y2",y0).attr("stroke","#333").attr("stroke-width",1).attr("stroke-dasharray","1.5 1"));
 const line=d3.line().x(d=>x(d[0])).y(d=>y(d[1]));
 const lg=g.append("g").attr("clip-path",`url(#${cid})`);
 p.s.forEach(([c,d])=>lg.append("path").attr("d",line(d)).attr("fill","none").attr("stroke",COL[c]).attr("stroke-width",1.25).attr("stroke-linejoin","round"));
 // axes
 const ya=g.append("g").attr("transform",`translate(${p.left},0)`);
 const step=p.yt[1]-p.yt[0], minorY=d3.range(0,y.domain()[1],step/5);
 ya.append("g").call(d3.axisLeft(y).tickValues(minorY).tickSize(2).tickSizeOuter(0).tickFormat("")).call(s=>s.selectAll("line").attr("x2",-1.5).attr("x1",1.5).attr("stroke","#333")).call(s=>s.select("path").attr("stroke","#555"));
 const maj=ya.append("g").call(d3.axisLeft(y).tickValues(p.yt).tickSize(4).tickPadding(6).tickSizeOuter(0).tickFormat(d3.format("d")));
 maj.select("path").remove();
 maj.selectAll("line").attr("x1",2.5).attr("x2",-4).attr("stroke","#333");
 maj.selectAll("text").attr("font-family","Liberation Sans").attr("font-size",fs).attr("fill","#444");
 const xa=g.append("g").attr("transform",`translate(0,${y0})`);
 const xd0=x.invert(p.left), xd1=x.invert(p.right);
 const minorX=d3.range(Math.ceil(xd0/p.xm)*p.xm,xd1,p.xm);
 const xs=x.copy().domain([xd0,xd1]).range([p.left,p.right]);
 xa.append("g").call(d3.axisBottom(xs).tickValues(minorX).tickSize(2).tickSizeOuter(0).tickFormat("")).call(s=>s.selectAll("line").attr("stroke","#444")).call(s=>s.select("path").attr("stroke","#444"));
 const xmaj=xa.append("g").call(d3.axisBottom(x).tickValues(p.xt).tickSize(3.5).tickSizeOuter(0).tickFormat(d3.format(p.fmt)));
 xmaj.select("path").remove();
 xmaj.selectAll("line").attr("stroke","#333");
 xmaj.selectAll("text").attr("y",p.tickY-y0).attr("dy","0.36em").attr("font-family","Liberation Sans").attr("font-size",fs).attr("fill","#444");
 if(p.clipTicks) xmaj.selectAll("g.tick").filter(d=>d===39.2).attr("display","none");
 if(p.clipTicks){ g.append("text").text("39.").attr("x",x(39.2)-2).attr("y",p.tickY).attr("dy","0.36em").attr("text-anchor","middle").attr("font-family","Liberation Sans").attr("font-size",fs).attr("fill","#444"); }
 // titles
 g.append("text").text("Intensity").attr("transform",`translate(${p.lab[0]},${p.lab[1]}) rotate(-90)`).attr("text-anchor","middle").attr("dy","0.36em").attr("font-family","Liberation Sans").attr("font-weight",700).attr("font-size",p.small?8.5:9.5).attr("fill","#222").call(fit,p.lab[2]);
 g.append("text").text("Retention Time").attr("x",p.xl[0]-p.xl[2]/2).attr("y",p.xl[1]).attr("dy","0.36em").attr("font-family","Liberation Sans").attr("font-weight",700).attr("font-size",p.small?8.5:9.5).attr("fill","#222").call(fit,p.xl[2]);
 // annotation
 if(p.box) g.append("rect").attr("x",p.box[0]).attr("y",p.box[1]).attr("width",p.box[2]).attr("height",p.box[3]).attr("fill","#fff").attr("opacity",0.9);
 const ag=g.append("g").attr("clip-path",`url(#${tid})`);
 p.ann.forEach(a=>a[1].forEach((t,i)=>ag.append("text").text(t).attr("x",a[0]).attr("y",a[3][i]).attr("dy","0.36em").attr("text-anchor","middle").attr("font-family","Liberation Sans").attr("font-size",p.small?7.5:9).attr("fill",COL[a[2]]).attr("opacity",0.85)));
 if(p.mark) g.append("path").attr("d","M0,-2.3L8,0L0,2.3Z").attr("transform",`translate(${p.mark[0]},${p.mark[1]})`).attr("fill","#000");
 // fraction caption
 g.append("text").text(p.frac[0]).attr("x",p.frac[1]).attr("y",p.frac[3]).attr("font-family","Open Sans").attr("font-weight",700).attr("font-size",23).attr("fill","#111").call(fit,p.frac[2]-p.frac[1]);
});
</script></body></html>
